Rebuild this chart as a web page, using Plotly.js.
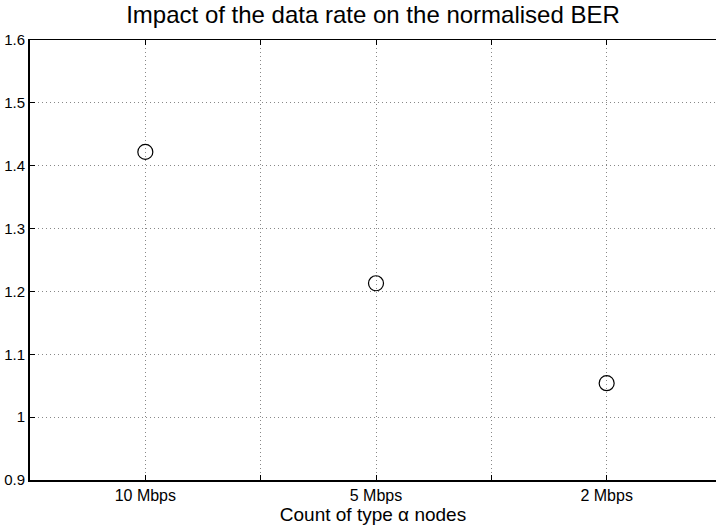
<!DOCTYPE html>
<html>
<head>
<meta charset="utf-8">
<script src="https://cdn.plot.ly/plotly-3.0.1.min.js"></script>
<style>html,body{margin:0;padding:0;background:#fff;}#chart{width:716px;height:526px;}</style>
</head>
<body>
<div id="chart"></div>
<script>
const categories = ["10 Mbps", "5 Mbps", "2 Mbps"];
const berValues = [1.422, 1.213, 1.054];
const yTickVals = [0.9, 1, 1.1, 1.2, 1.3, 1.4, 1.5, 1.6];
const yTickText = ["0.9", "1", "1.1", "1.2", "1.3", "1.4", "1.5", "1.6"];

const xPos = categories.map((c, i) => i + 1);
const xTickVals = [];
const xTickText = [];
for (let i = 0; i <= categories.length; i++) {
  xTickVals.push(i + 0.5);
  xTickText.push("");
  if (i < categories.length) { xTickVals.push(i + 1); xTickText.push(categories[i]); }
}

const font = "Liberation Sans, Arial, Helvetica, sans-serif";
const trace = {
  x: xPos, y: berValues, type: "scatter", mode: "markers",
  marker: {symbol: "circle-open", size: 15, color: "#000", line: {width: 1.2, color: "#000"}},
  hoverinfo: "skip", showlegend: false
};
const layout = {
  width: 716, height: 526,
  margin: {l: 30, r: 0, t: 40, b: 46, pad: 0},
  paper_bgcolor: "#fff", plot_bgcolor: "#fff",
  font: {family: font, color: "#000"},
  title: {text: "Impact of the data rate on the normalised BER", font: {size: 24, family: font, color: "#000"},
          xref: "paper", x: 0.5, xanchor: "center", yref: "container", y: 0.972, yanchor: "middle"},
  xaxis: {
    range: [0.5, 3.474], tickmode: "array", tickvals: xTickVals, ticktext: xTickText,
    ticks: "inside", ticklen: 5, tickwidth: 1, tickcolor: "#000",
    showline: true, linecolor: "#000", linewidth: 1.5, mirror: "ticks",
    showgrid: true, gridcolor: "#888", griddash: "1px,3px", gridwidth: 1,
    zeroline: false, tickfont: {size: 16, family: font, color: "#000"},
    title: {text: "Count of type α nodes", font: {size: 19, family: font, color: "#000"}, standoff: 2},
    automargin: false, fixedrange: true
  },
  yaxis: {
    range: [0.9, 1.6], tickmode: "array", tickvals: yTickVals, ticktext: yTickText,
    ticks: "inside", ticklen: 5, tickwidth: 1, tickcolor: "#000",
    showline: true, linecolor: "#000", linewidth: 2, mirror: false,
    showgrid: true, gridcolor: "#888", griddash: "1px,3px", gridwidth: 1,
    zeroline: false, tickfont: {size: 15, family: font, color: "#000"},
    automargin: false, fixedrange: true
  }
};
Plotly.newPlot("chart", [trace], layout, {displayModeBar: false, staticPlot: true});
</script>
</body>
</html>
